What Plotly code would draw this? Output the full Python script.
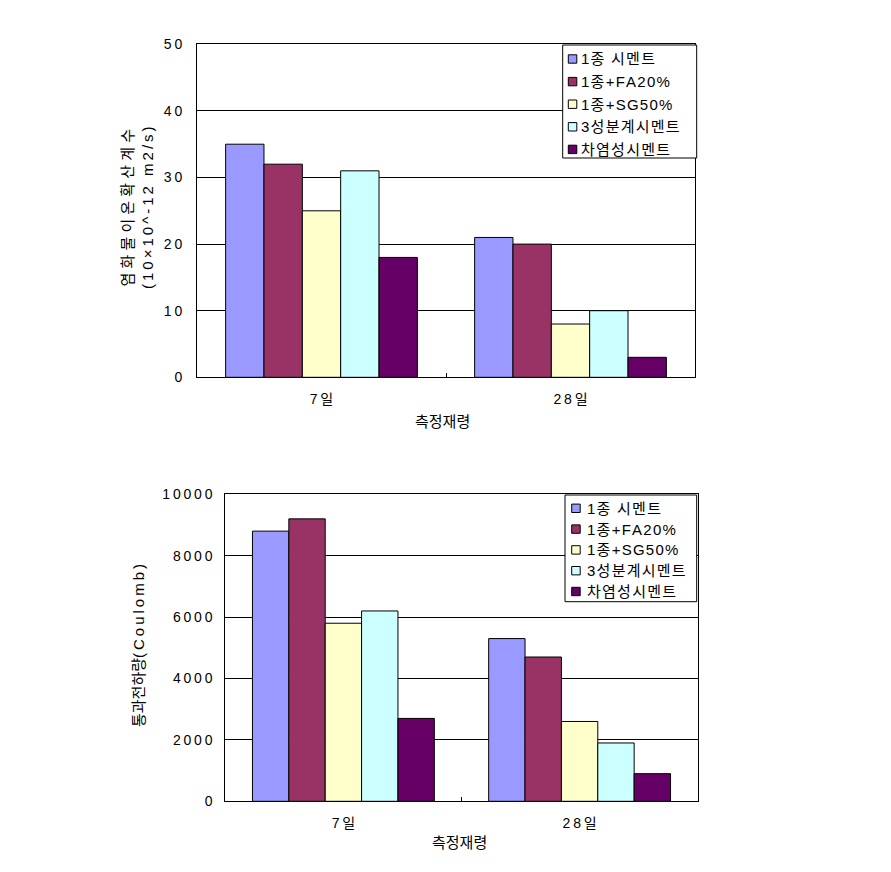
import plotly.graph_objects as go

categories = ["7일", "28일"]
series_names = ["1종 시멘트", "1종+FA20%", "1종+SG50%", "3성분계시멘트", "차염성시멘트"]
colors = ["#9999FF", "#993366", "#FFFFCC", "#CCFFFF", "#660066"]

# Chloride diffusion coefficient (10x10^-12 m2/s)
diffusion_7 = [35, 32, 25, 31, 18]
diffusion_28 = [21, 20, 8, 10, 3]

# Passed charge (Coulomb)
charge_7 = [8800, 9200, 5800, 6200, 2700]
charge_28 = [5300, 4700, 2600, 1900, 900]

top_ticks = [0, 10, 20, 30, 40, 50]
bottom_ticks = [0, 2000, 4000, 6000, 8000, 10000]

W, H = 891, 872
FONT = "'Liberation Sans', Arial, 'Noto Sans CJK KR', sans-serif"
THIN = "\u2009"
HAIR = "\u200a"


def spaced(s, sep=THIN):
    return sep.join(list(s))


def px_x(v):
    return v / W


def px_y(v):
    return 1 - v / H


fig = go.Figure()
for i, name in enumerate(series_names):
    fig.add_trace(go.Bar(
        x=categories, y=[diffusion_7[i], diffusion_28[i]], name=name,
        marker=dict(color=colors[i], line=dict(color="black", width=1)),
        xaxis="x", yaxis="y", showlegend=False))
for i, name in enumerate(series_names):
    fig.add_trace(go.Bar(
        x=categories, y=[charge_7[i], charge_28[i]], name=name,
        marker=dict(color=colors[i], line=dict(color="black", width=1)),
        xaxis="x2", yaxis="y2", showlegend=False))

tickfont = dict(family=FONT, size=14, color="black")
axis_common = dict(showline=True, linecolor="black", linewidth=1, mirror=True,
                   tickfont=tickfont)
xaxis_common = dict(ticks="inside", tickson="boundaries", ticklen=4, tickcolor="black",
                    showgrid=False, tickmode="array", tickvals=categories,
                    ticktext=[spaced(c) for c in categories], ticklabelstandoff=9,
                    **axis_common)
yaxis_common = dict(showgrid=True, gridcolor="black", gridwidth=1, ticks="",
                    zeroline=False, tickmode="array", **axis_common)

fig.update_layout(
    width=W, height=H, margin=dict(l=0, r=0, t=0, b=0, autoexpand=False),
    paper_bgcolor="white", plot_bgcolor="white",
    barmode="group", bargap=0.23, bargroupgap=0,
    font=dict(family=FONT, color="black"),
    showlegend=False,
    xaxis=dict(domain=[px_x(197), px_x(695)], anchor="y", **xaxis_common),
    yaxis=dict(domain=[px_y(377.3), px_y(44.3)], anchor="x", range=[0, 50],
               tickvals=top_ticks, ticktext=[spaced(str(t)) for t in top_ticks],
               ticklabelstandoff=11, **yaxis_common),
    xaxis2=dict(domain=[px_x(225.3), px_x(697.7)], anchor="y2", **xaxis_common),
    yaxis2=dict(domain=[px_y(801.3), px_y(494.3)], anchor="x2", range=[0, 10000],
                tickvals=bottom_ticks, ticktext=[spaced(str(t)) for t in bottom_ticks],
                ticklabelstandoff=9, **yaxis_common),
)

# Axis titles
annots = [
    dict(text="측정재령", x=px_x(442), y=px_y(421), size=15),
    dict(text="측정재령", x=px_x(459), y=px_y(842), size=15),
    dict(text=spaced("염화물이온확산계수", " ") + "<br>" + spaced("(10×10^-12 m2/s)"),
         x=px_x(137), y=px_y(208), textangle=-90, size=15),
    dict(text="통과전하량" + spaced("(Coulomb)"), x=px_x(138), y=px_y(646),
         textangle=-90, size=15),
]
for a in annots:
    size = a.pop("size")
    fig.add_annotation(xref="paper", yref="paper", showarrow=False,
                       xanchor="center", yanchor="middle",
                       font=dict(family=FONT, size=size, color="black"), **a)

# Legend boxes (one per chart): box, colour swatch, label
legend_boxes = [
    dict(x0=562.7, x1=696.7, y0=45, y1=158, first=59, step=22.6, mx=568.3, tx=579),
    dict(x0=565, x1=696.7, y0=495, y1=601.7, first=508.3, step=20.8, mx=571.7, tx=585),
]
for lb in legend_boxes:
    fig.add_shape(type="rect", xref="paper", yref="paper",
                  x0=px_x(lb["x0"]), x1=px_x(lb["x1"]),
                  y0=px_y(lb["y1"]), y1=px_y(lb["y0"]),
                  line=dict(color="black", width=1), fillcolor="white", layer="above")
    for i, name in enumerate(series_names):
        cy = lb["first"] + i * lb["step"]
        fig.add_shape(type="rect", xref="paper", yref="paper",
                      x0=px_x(lb["mx"]), x1=px_x(lb["mx"] + 8.5),
                      y0=px_y(cy + 4.2), y1=px_y(cy - 4.2),
                      line=dict(color="black", width=1), fillcolor=colors[i], layer="above")
        fig.add_annotation(xref="paper", yref="paper", showarrow=False,
                           x=px_x(lb["tx"]), y=px_y(cy), xanchor="left", yanchor="middle",
                           text=spaced(name, HAIR),
                           font=dict(family=FONT, size=15, color="black"))

fig.write_html("out.html")
